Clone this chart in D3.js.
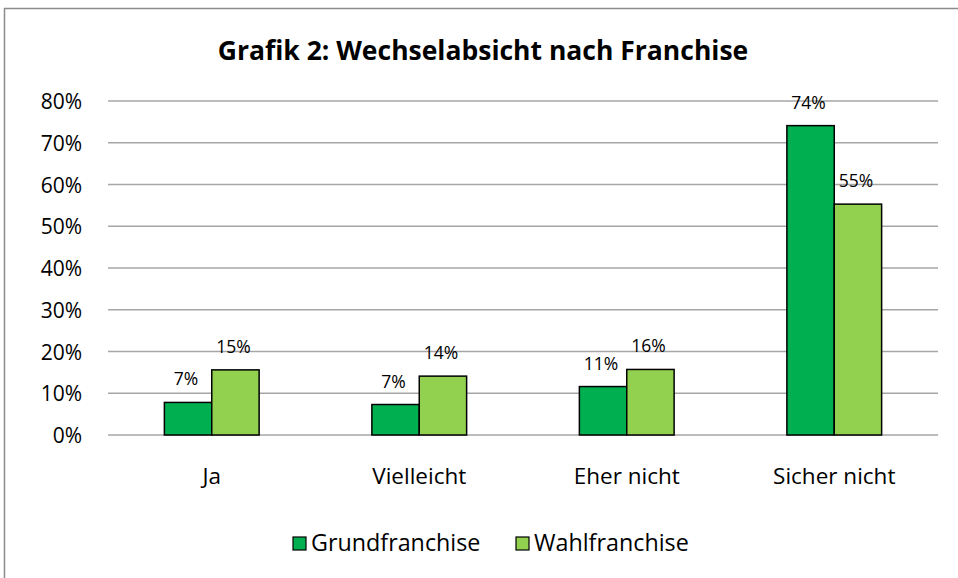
<!DOCTYPE html>
<meta charset="utf-8">
<style>
  body { margin: 0; background: #fff; }
  text { font-family: "Open Sans", "Noto Sans", sans-serif; fill: #000; }
  .title { font-weight: bold; font-size: 26.5px; text-anchor: middle; }
  .axis text { font-size: 21px; }
  .cat { font-size: 22.5px; text-anchor: middle; }
  .val { font-size: 17.5px; text-anchor: middle; }
  .leg { font-size: 23.3px; }
</style>
<svg width="958" height="578"></svg>
<script src="https://cdn.jsdelivr.net/npm/d3@7"></script>
<script>

// data
const categories = ["Ja", "Vielleicht", "Eher nicht", "Sicher nicht"]
const seriesNames = ["Grundfranchise", "Wahlfranchise"]
const grund = [7.8, 7.3, 11.6, 74.1]
const wahl = [15.6, 14.1, 15.7, 55.3]
const grundLabels = ["7%", "7%", "11%", "74%"]
const wahlLabels = ["15%", "14%", "16%", "55%"]
const yTicks = [0, 10, 20, 30, 40, 50, 60, 70, 80]

const colors = ["#00b050", "#92d050"]

const svg = d3.select("svg")

// outer frame
svg.append("rect")
  .attr("x", 4.5).attr("y", 8.5)
  .attr("width", 970).attr("height", 600)
  .attr("fill", "none")
  .attr("stroke", "#8c8c8c")
  .attr("stroke-width", 1.5)

svg.append("text")
  .attr("class", "title")
  .attr("x", 483).attr("y", 60)
  .text("Grafik 2: Wechselabsicht nach Franchise")

const margin = {left: 108, right: 20, top: 101, bottom: 143}
const W = 958 - margin.left - margin.right
const H = 578 - margin.top - margin.bottom

const g = svg.append("g")
  .attr("transform", `translate(${margin.left},${margin.top})`)

const x = d3.scaleBand().domain(categories).range([0, W]).paddingInner(0).paddingOuter(0)
const x1 = d3.scaleBand().domain([0, 1]).range([0, x.bandwidth()]).paddingOuter(1.19).paddingInner(0)
const y = d3.scaleLinear().domain([0, 80]).range([H, 0])

// gridlines
g.selectAll(".grid")
  .data(yTicks)
  .join("line")
  .attr("x1", 0).attr("x2", W)
  .attr("y1", d => y(d)).attr("y2", d => y(d))
  .attr("stroke", "#a6a6a6")
  .attr("stroke-width", 1.5)

// y labels
const yAxis = g.append("g").attr("class", "axis")
  .call(d3.axisLeft(y).tickValues(yTicks).tickFormat(d => d + "%").tickSize(0).tickPadding(26))
yAxis.select(".domain").remove()
yAxis.selectAll("text").attr("dy", "0.36em")

const rows = categories.map((c, i) => ({cat: c, vals: [grund[i], wahl[i]], labs: [grundLabels[i], wahlLabels[i]]}))

const grp = g.selectAll(".grp")
  .data(rows)
  .join("g")
  .attr("transform", d => `translate(${x(d.cat)},0)`)

grp.selectAll("rect")
  .data(d => d.vals.map((v, k) => ({k, v})))
  .join("rect")
  .attr("x", d => x1(d.k))
  .attr("width", x1.bandwidth())
  .attr("y", d => y(d.v))
  .attr("height", d => H - y(d.v))
  .attr("fill", d => colors[d.k])
  .attr("stroke", "#000")
  .attr("stroke-width", 1.5)

grp.selectAll(".val")
  .data(d => d.vals.map((v, k) => ({k, v, lab: d.labs[k]})))
  .join("text")
  .attr("class", "val")
  .attr("x", d => x1(d.k) + x1.bandwidth() / 2 - 2)
  .attr("y", d => y(d.v) - 17)
  .text(d => d.lab)

// category labels
g.selectAll(".cat")
  .data(categories)
  .join("text")
  .attr("class", "cat")
  .attr("x", d => x(d) + x.bandwidth() / 2)
  .attr("y", H + 49)
  .text(d => d)

// legend
const legX = [293, 516]
const leg = svg.selectAll(".legitem")
  .data(seriesNames)
  .join("g")
  .attr("transform", (d, i) => `translate(${legX[i]},537)`)
leg.append("rect")
  .attr("width", 13).attr("height", 13)
  .attr("fill", (d, i) => colors[i])
  .attr("stroke", "#000").attr("stroke-width", 1.2)
leg.append("text")
  .attr("class", "leg")
  .attr("x", 18).attr("y", 14)
  .text(d => d)
</script>
